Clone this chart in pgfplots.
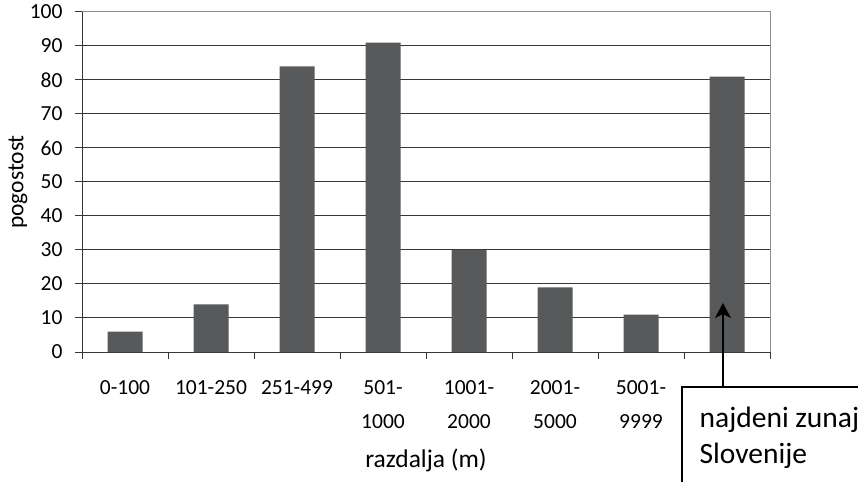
\documentclass[border=0pt]{standalone}
\usepackage{pgfplots}
\pgfplotsset{compat=1.18}
\usepackage{fontspec}
\setmainfont{Carlito}
\usetikzlibrary{arrows.meta}
\definecolor{barc}{RGB}{88,89,91}
\definecolor{gridc}{RGB}{55,55,55}
\begin{document}
\begin{tikzpicture}
\useasboundingbox (0,0) rectangle (858bp,482bp);
\clip (0,0) rectangle (858bp,482bp);
\begin{axis}[
  at={(82bp,130bp)}, anchor=south west,
  scale only axis, width=688bp, height=340bp,
  xmin=-0.5, xmax=7.5, ymin=0, ymax=100,
  ytick={0,10,20,30,40,50,60,70,80,90,100},
  yticklabels={0,10,20,30,40,50,60,70,80,90,100},
  ymajorgrids, grid style={color=gridc, line width=1bp},
  xtick={-0.5,0.5,...,7.5},
  x tick label as interval,
  xticklabels={0-100,101-250,251-499,{501-\\1000},{1001-\\2000},{2001-\\5000},{5001-\\9999},{}},
  xticklabel style={align=center, font=\fontsize{21.5bp}{34bp}\selectfont, yshift=-18bp},
  yticklabel style={font=\fontsize{21.5bp}{25bp}\selectfont, xshift=-9bp},
  tick align=outside, major tick length=7bp,
  tick style={color=gridc, line width=1bp},
  axis x line*=bottom, axis y line*=left,
  axis line style={color=gridc, line width=1bp, -},
  ylabel={pogostost}, xlabel={razdalja (m)},
  every axis y label/.style={at={(rel axis cs:-0.093,0.5)}, rotate=90, anchor=center, font=\fontsize{23.5bp}{28bp}\selectfont},
  every axis x label/.style={at={(rel axis cs:0.5,-0.318)}, anchor=center, font=\fontsize{25.5bp}{30bp}\selectfont},
  clip=false,
]
\addplot[ybar, bar width=35bp, fill=barc, draw=none] coordinates {
(0,6) (1,14) (2,84) (3,91) (4,30) (5,19) (6,11) (7,81)
};
\draw[color=black!45, line width=1bp] (rel axis cs:0,1) -- (rel axis cs:1,1) -- (rel axis cs:1,0);
\draw[black, line width=1.2bp, -{Stealth[length=15bp, width=16bp, inset=4bp]}] (axis cs:6.953,-10.3) -- (axis cs:6.953,14.4);
\draw[black, line width=1.2bp] (axis cs:6.477,-40) -- (axis cs:6.477,-10.3) -- (axis cs:9,-10.3);
\node[anchor=base west, inner sep=0pt, font=\fontsize{29.5bp}{36bp}\selectfont] at (axis cs:6.68,-22.06) {najdeni zunaj};
\node[anchor=base west, inner sep=0pt, font=\fontsize{29.5bp}{36bp}\selectfont] at (axis cs:6.68,-32.65) {Slovenije};
\end{axis}
\end{tikzpicture}
\end{document}
